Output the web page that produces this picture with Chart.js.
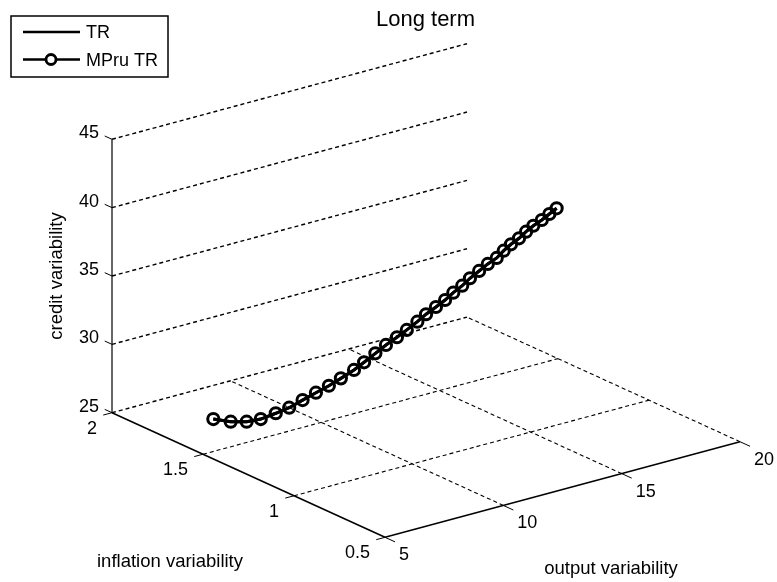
<!DOCTYPE html>
<html>
<head>
<meta charset="utf-8">
<title>Long term</title>
<script src="https://cdn.jsdelivr.net/npm/chart.js@4/dist/chart.umd.min.js"></script>
<style>
html, body { margin: 0; padding: 0; background: #fff; }
canvas { display: block; }
</style>
</head>
<body>
<canvas id="chart" width="777" height="582"></canvas>
<script>
var titleText = "Long term";
var seriesNames = ["TR", "MPru TR"];

var outputTicks = [5, 10, 15, 20];
var inflationTicks = [2, 1.5, 1, 0.5];
var inflationTickLabels = ["2", "1.5", "1", "0.5"];
var creditTicks = [25, 30, 35, 40, 45];

// inflation is the least certain coordinate
var outputVar = [6.59, 7.17, 7.69, 8.21, 8.69, 9.18, 9.67, 10.08, 10.55, 10.98, 11.38, 11.73,
	12.13, 12.50, 12.81, 13.15, 13.52, 13.81, 14.15, 14.46, 14.73, 15.03, 15.28, 15.59,
	15.88, 16.18, 16.40, 16.63, 16.97, 17.19, 17.42, 17.70, 18.02, 18.25];
var inflationVar = [1.65, 1.63, 1.61, 1.60, 1.58, 1.57, 1.56, 1.54, 1.53, 1.52, 1.50, 1.49,
	1.48, 1.47, 1.45, 1.44, 1.43, 1.42, 1.41, 1.40, 1.39, 1.38, 1.37, 1.36,
	1.35, 1.34, 1.33, 1.32, 1.32, 1.31, 1.30, 1.29, 1.29, 1.28];
var creditVar = [25.92, 25.58, 25.46, 25.47, 25.79, 26.03, 26.42, 26.89, 27.24, 27.64, 28.19, 28.65,
	29.18, 29.68, 30.22, 30.66, 31.15, 31.62, 32.05, 32.48, 32.95, 33.38, 33.87, 34.32,
	34.76, 35.12, 35.61, 36.03, 36.31, 36.75, 37.14, 37.49, 37.78, 38.15];

// matlab style view: where the box corners land on the page
function project(o, i, c) {
	var a = (o - 5) / 15;
	var b = (2 - i) / 1.5;
	var h = (c - 25) / 20;
	return {
		x: 112 + 355 * a + 273 * b,
		y: 412.7 - 95.6 * a + 124.6 * b - 273.4 * h
	};
}

function segment(p1, p2, dashed, width) {
	return {
		data: [project(p1[0], p1[1], p1[2]), project(p2[0], p2[1], p2[2])],
		showLine: true,
		borderColor: "#000",
		borderWidth: width,
		borderDash: dashed ? [4, 3] : [],
		pointRadius: 0,
		label: ""
	};
}

var curve = [];
for (var k = 0; k < outputVar.length; k++) {
	curve.push(project(outputVar[k], inflationVar[k], creditVar[k]));
}

var datasets = [
	{ label: seriesNames[1], data: curve, showLine: true, borderColor: "#000", borderWidth: 3,
		pointRadius: 5.6, pointBorderWidth: 3, pointBorderColor: "#000", pointBackgroundColor: "rgba(0,0,0,0)" },
	{ label: seriesNames[0], data: curve, showLine: true, borderColor: "#000", borderWidth: 3, pointRadius: 0 }
];

// back wall lines
creditTicks.forEach(function (c) {
	datasets.push(segment([5, 2, c], [20, 2, c], true, 1.4));
	datasets.push(segment([5, 2, c], [5, 2.04, c], false, 1));
});
// floor grid
outputTicks.forEach(function (o) {
	if (o != 5) datasets.push(segment([o, 0.5, 25], [o, 2, 25], true, 1.1));
	datasets.push(segment([o, 0.5, 25], [o, 0.445, 25], false, 1));
});
inflationTicks.forEach(function (i) {
	if (i != 0.5 && i != 2) datasets.push(segment([5, i, 25], [20, i, 25], true, 1.1));
	datasets.push(segment([5, i, 25], [4.63, i, 25], false, 1));
});
// solid axes
datasets.push(segment([5, 2, 25], [5, 0.5, 25], false, 1.5));
datasets.push(segment([5, 0.5, 25], [20, 0.5, 25], false, 1.5));
datasets.push(segment([5, 2, 25], [5, 2, 45], false, 1.2));

var fontFamily = '"Liberation Sans", Arial, sans-serif';

var textPlugin = {
	id: "textPlugin",
	afterDraw: function (chart) {
		var ctx = chart.ctx;
		var sx = chart.scales.x;
		var sy = chart.scales.y;
		function px(p) {
			return { x: sx.getPixelForValue(p.x), y: sy.getPixelForValue(p.y) };
		}
		ctx.save();
		ctx.fillStyle = "#000";
		ctx.font = "18px " + fontFamily;
		ctx.textBaseline = "middle";

		ctx.textAlign = "right";
		creditTicks.forEach(function (c) {
			var p = px(project(5, 2, c));
			ctx.fillText(String(c), p.x - 13, p.y - 6);
		});
		inflationTicks.forEach(function (i, n) {
			var p = px(project(5, i, 25));
			ctx.fillText(inflationTickLabels[n], p.x - 15, p.y + 16);
		});
		ctx.textAlign = "left";
		outputTicks.forEach(function (o) {
			var p = px(project(o, 0.5, 25));
			ctx.fillText(String(o), p.x + 14, p.y + 18);
		});

		ctx.font = "18.5px " + fontFamily;
		ctx.textAlign = "center";
		ctx.fillText("inflation variability", 170, 562);
		ctx.fillText("output variability", 611, 569);
		ctx.save();
		ctx.translate(57, 276);
		ctx.rotate(-Math.PI / 2);
		ctx.fillText("credit variability", 0, 0);
		ctx.restore();

		// legend box
		ctx.fillStyle = "#fff";
		ctx.strokeStyle = "#000";
		ctx.lineWidth = 1.5;
		ctx.fillRect(11, 16, 157, 61);
		ctx.strokeRect(11, 16, 157, 61);
		ctx.lineWidth = 2.5;
		ctx.beginPath();
		ctx.moveTo(23, 32); ctx.lineTo(80, 32);
		ctx.moveTo(23, 59.5); ctx.lineTo(80, 59.5);
		ctx.stroke();
		ctx.beginPath();
		ctx.arc(51, 59.5, 5, 0, Math.PI * 2);
		ctx.fillStyle = "#fff";
		ctx.fill();
		ctx.lineWidth = 2.8;
		ctx.stroke();
		ctx.fillStyle = "#000";
		ctx.font = "18px " + fontFamily;
		ctx.textAlign = "left";
		ctx.fillText(seriesNames[0], 86, 33);
		ctx.fillText(seriesNames[1], 86, 61);
		ctx.restore();
	}
};

new Chart(document.getElementById("chart").getContext("2d"), {
	type: "scatter",
	data: { datasets: datasets },
	plugins: [textPlugin],
	options: {
		responsive: false,
		animation: false,
		layout: { autoPadding: false, padding: { left: 74 } },
		plugins: {
			legend: { display: false },
			tooltip: { enabled: false },
			title: {
				display: true,
				text: titleText,
				fullSize: false,
				color: "#000",
				font: { family: fontFamily, size: 22, weight: "normal", lineHeight: 1 },
				padding: { top: 9, bottom: 0 }
			}
		},
		scales: {
			x: { type: "linear", display: false, min: 74, max: 777 },
			y: { type: "linear", display: false, reverse: true, min: 31, max: 582 }
		}
	}
});
</script>
</body>
</html>
